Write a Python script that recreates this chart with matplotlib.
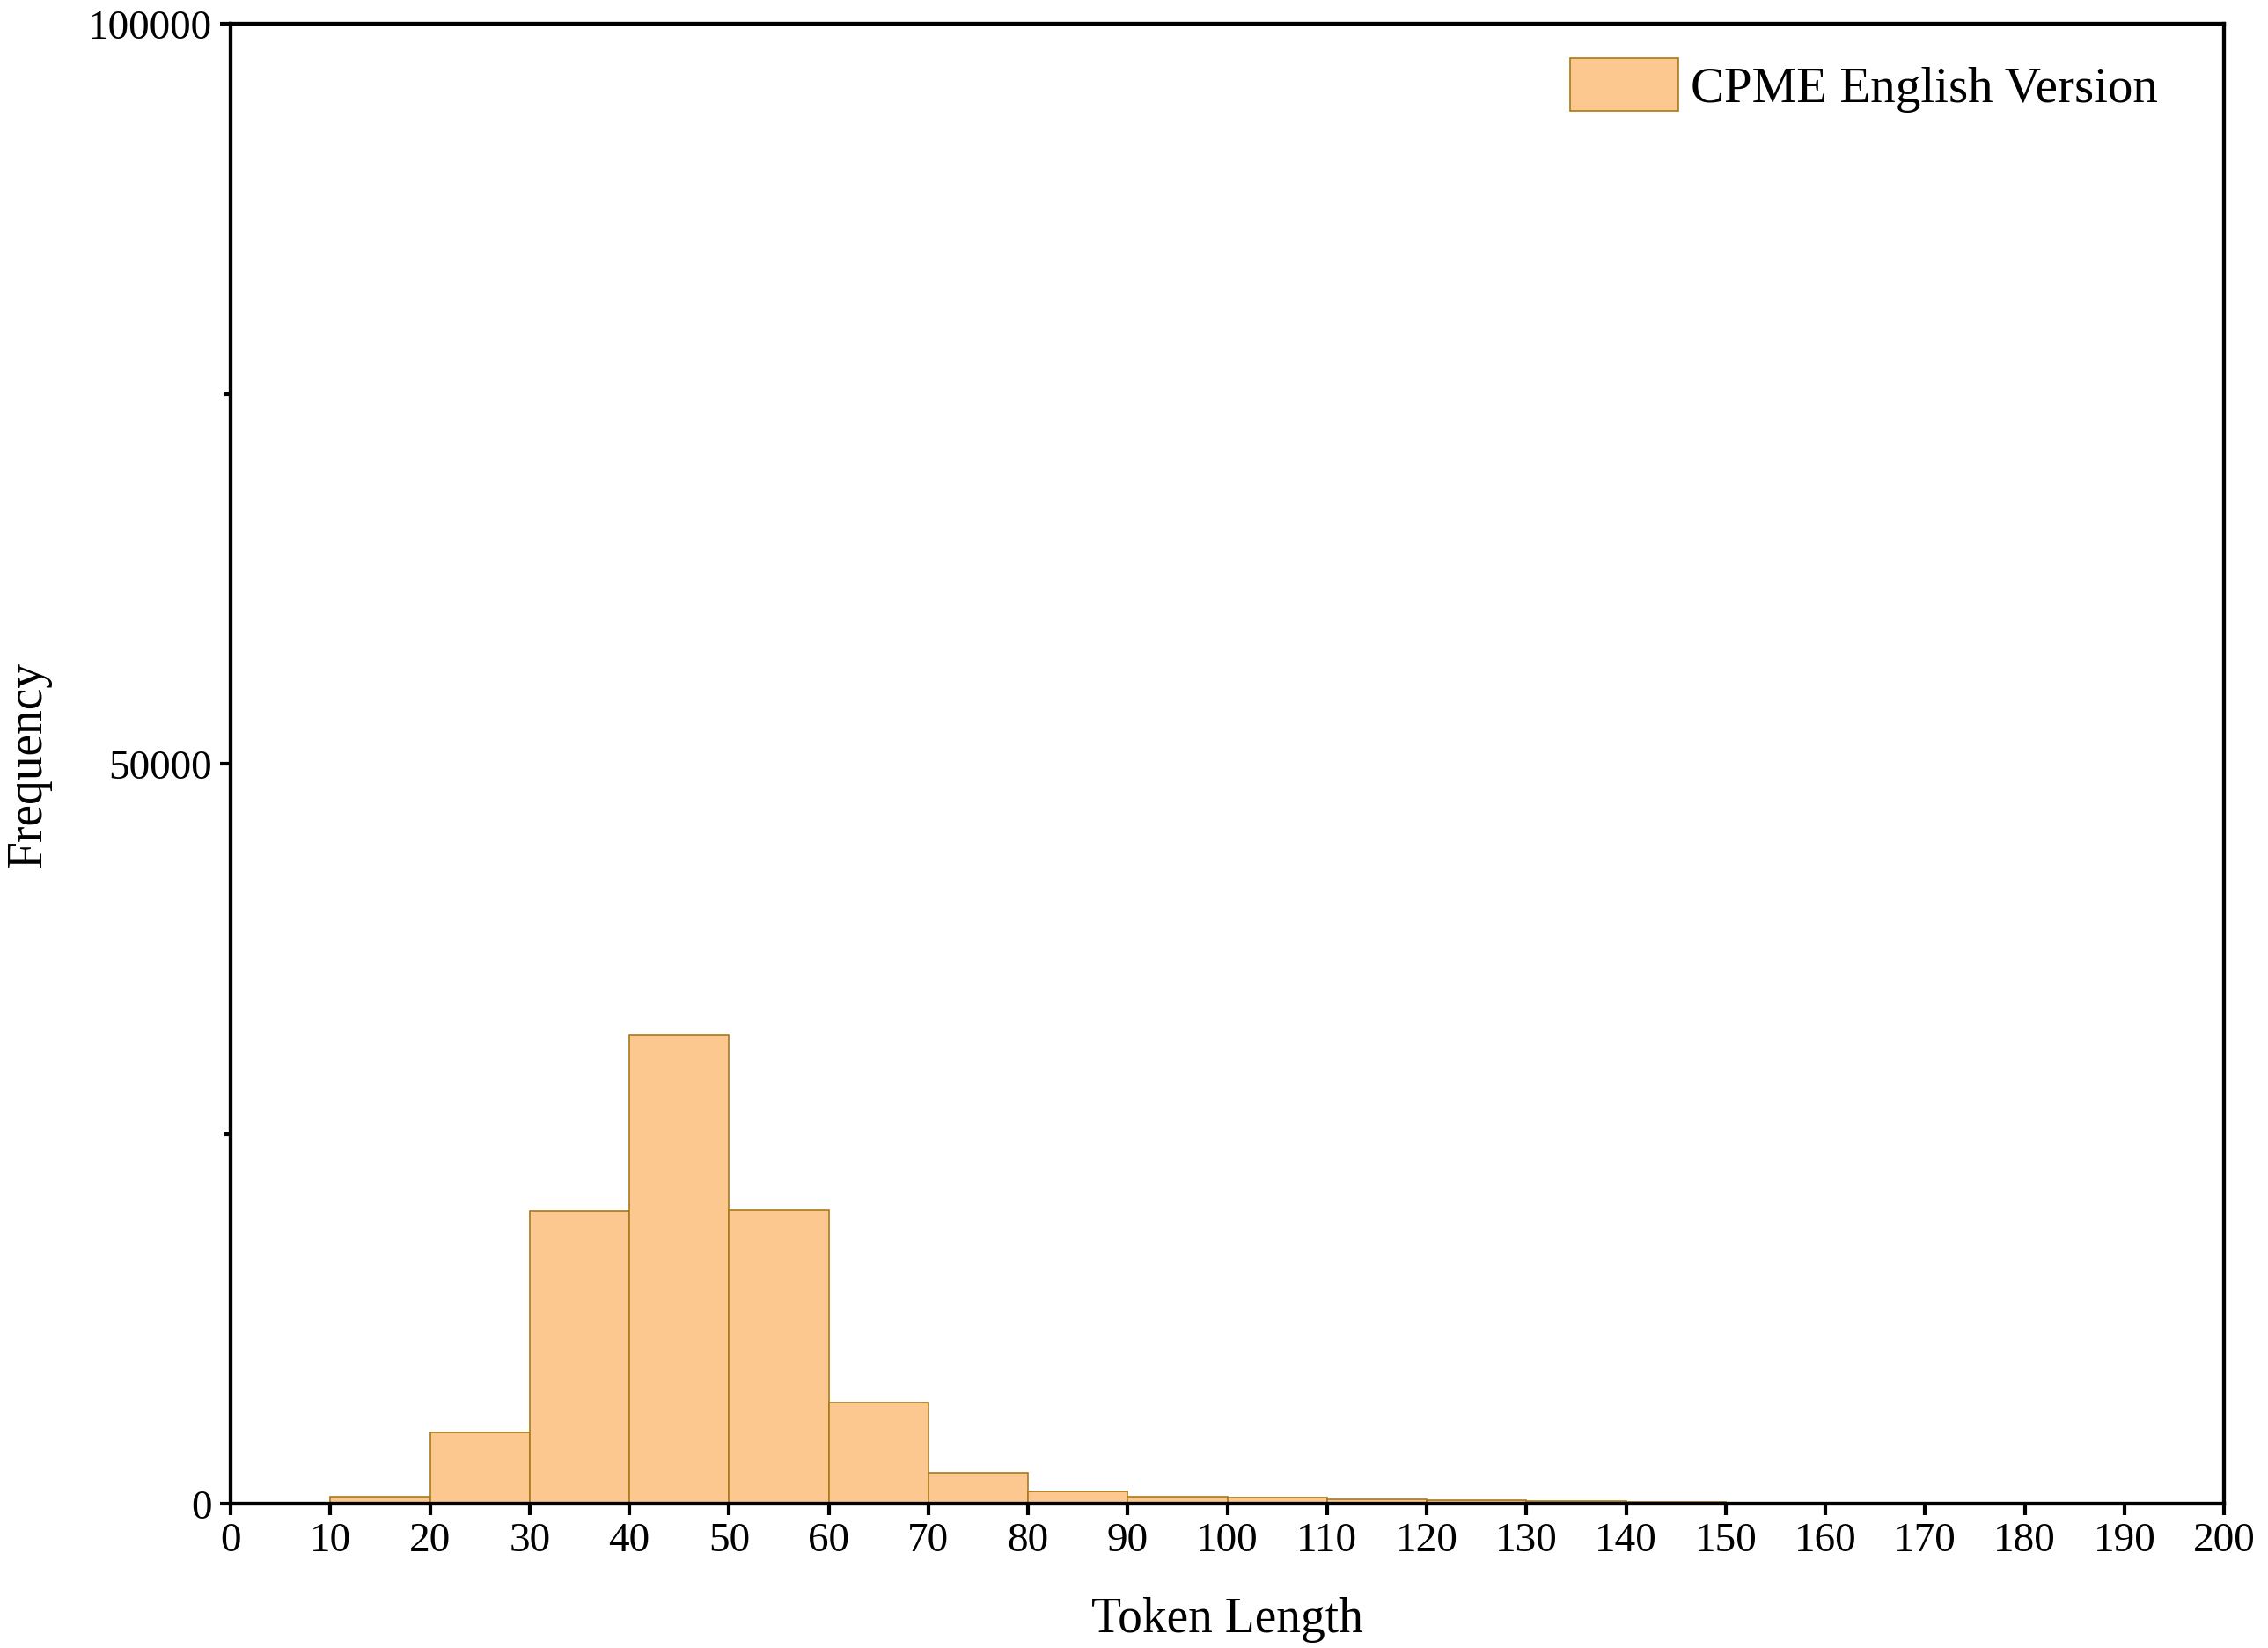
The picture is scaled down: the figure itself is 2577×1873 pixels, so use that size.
import matplotlib
matplotlib.use("Agg")
import matplotlib.pyplot as plt
import numpy as np

# dữ liệu histogram (bin 10 token)
bin_left = [10, 20, 30, 40, 50, 60, 70, 80, 90, 100, 110, 120, 130, 140]
freq = [500, 4800, 19800, 31700, 19850, 6820, 2080, 850, 500, 400, 300, 250, 200, 150]
bin_width = 10
x_ticks = list(range(0, 201, 10))
y_ticks = [0, 50000, 100000]
legend_label = "CPME English Version"

plt.rcParams["font.family"] = ["Liberation Serif", "DejaVu Serif"]

fig = plt.figure(figsize=(25.77, 18.74), dpi=100)
ax = fig.add_axes([0.1017, 0.0875, 0.9806 - 0.1017, 0.985 - 0.0875])

ax.bar(bin_left, freq, width=bin_width, align="edge",
       color="#FDC890", edgecolor="#A8791A", linewidth=1.2,
       label=legend_label, zorder=2)

ax.set_xlim(0, 200)
ax.set_ylim(0, 100000)
ax.set_xticks(x_ticks)
ax.set_yticks(y_ticks)
ax.set_yticklabels([str(v) for v in y_ticks])
ax.set_yticks([25000, 75000], minor=True)

for s in ax.spines.values():
    s.set_linewidth(3.1)
    s.set_zorder(3)

ax.tick_params(axis="both", which="major", direction="out", length=9, width=3,
               labelsize=34, pad=6)
ax.tick_params(axis="y", which="minor", direction="out", length=5, width=3)
ax.tick_params(top=False, right=False)

ax.set_xlabel("Token Length", fontsize=40, labelpad=30)
ax.set_ylabel("Frequency", fontsize=40, labelpad=30)

leg = ax.legend(loc="upper right", frameon=False, fontsize=41,
                handlelength=2.15, handleheight=1.25, handletextpad=0.25,
                borderaxespad=0.4, bbox_to_anchor=(0.987, 1.004))

fig.savefig("out.png", dpi=100)
